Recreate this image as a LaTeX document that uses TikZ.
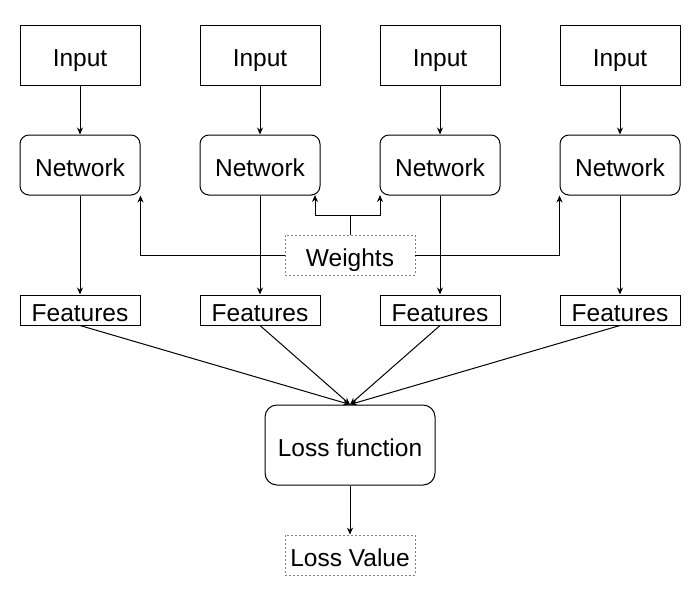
\documentclass[tikz,border=0pt]{standalone}
\usepackage{fontspec}
\setmainfont{Liberation Sans}
\usetikzlibrary{arrows.meta}
\begin{document}
\begin{tikzpicture}[x=1pt,y=-1pt,
  every node/.style={font=\fontsize{24.5}{28}\selectfont, inner sep=0pt, align=center, text height=22pt, text depth=0pt},
  sqbox/.style={draw, line width=1pt, minimum width=120pt, minimum height=60pt},
  rbox/.style={draw, line width=1pt, rounded corners=9pt, minimum width=120pt, minimum height=60pt},
  featbox/.style={draw, line width=1pt, minimum width=120pt, minimum height=30pt},
  dotbox/.style={draw=gray, line width=0.8pt, dash pattern=on 2pt off 2pt, minimum width=130pt, minimum height=40pt},
  arr/.style={draw, line width=1pt, -{Stealth[length=7pt,width=6pt]}}
]
\useasboundingbox (0,0) rectangle (700,600);
\foreach \i/\x in {1/80,2/260,3/440,4/620}{
  \node[sqbox] (in\i) at (\x,55) {Input};
  \node[rbox] (net\i) at (\x,165) {Network};
  \node[featbox] (f\i) at (\x,310) {Features};
}
\node[dotbox] (w) at (350,255) {Weights};
\node[rbox, minimum width=170pt, minimum height=80pt, rounded corners=12pt] (loss) at (350,445) {Loss function};
\node[dotbox] (lv) at (350,555) {Loss Value};
\coordinate (wj) at (350,215);
\coordinate (n2in) at (315,195);
\coordinate (n3in) at (380,195);
\foreach \i in {1,2,3,4}{
  \draw[arr] (in\i) -- (net\i);
  \draw[arr] (net\i) -- (f\i);
  \draw[arr] (f\i.south) -- (loss.north);
}
\draw[arr] (w.west) -| (net1.south east);
\draw[arr] (w.east) -| (net4.south west);
\draw[line width=1pt] (w.north) -- (wj);
\draw[arr] (wj) -| (n2in);
\draw[arr] (wj) -| (n3in);
\draw[arr] (loss) -- (lv);
\end{tikzpicture}
\end{document}
